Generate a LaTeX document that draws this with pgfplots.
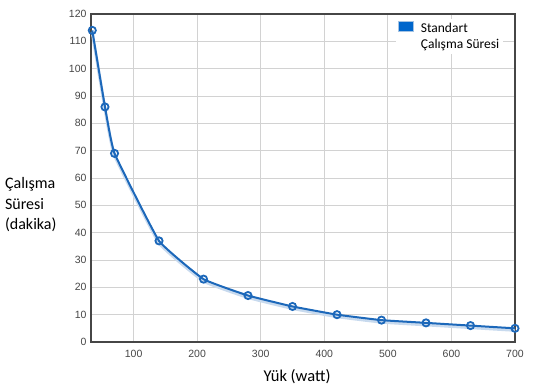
\documentclass[border=0pt]{standalone}
\usepackage{pgfplots}
\pgfplotsset{compat=1.18}
\usepackage{fontspec}
\setmainfont{Carlito}
\newfontfamily\arialf{Liberation Sans}
\definecolor{lineblue}{RGB}{28,104,186}
\definecolor{legblue}{RGB}{0,102,204}
\definecolor{framec}{RGB}{70,70,70}
\definecolor{gridc}{RGB}{210,210,210}
\definecolor{tickc}{RGB}{70,70,70}
\definecolor{shadowc}{RGB}{200,218,238}
\begin{document}
\begin{tikzpicture}
\begin{axis}[
  scale only axis,
  width=424pt, height=328pt,
  xmin=33, xmax=700, ymin=0, ymax=120,
  xtick={100,200,...,700},
  ytick={0,10,...,120},
  grid=major,
  major grid style={gridc, line width=0.8pt},
  axis line style={framec, line width=2.8pt},
  tick style={draw=none},
  ticklabel style={font=\arialf\fontsize{10.5}{12}\selectfont, text=tickc},
  /pgf/number format/assume math mode=true,
  xticklabel style={yshift=-5pt},
  yticklabel style={xshift=-1pt},
  xlabel={Yük (watt)},
  xlabel style={font=\fontsize{16.5}{19}\selectfont, at={(rel axis cs:0.486,0)}, anchor=north, yshift=-24pt},
  legend style={at={(rel axis cs:0.72,0.985)}, anchor=north west, draw=none, fill=white,
    font=\fontsize{13.5}{16.5}\selectfont, cells={align=left}, inner sep=2pt},
  legend cell align=left,
  legend image code/.code={\draw[draw=lineblue!40, fill=legblue, line width=0.8pt] (0pt,5pt) rectangle (15pt,15pt); \path (19pt,10pt);},
]
\addplot[shadowc, line width=3pt, smooth, tension=0.2, yshift=-2pt, forget plot] coordinates {
(35,114) (55,86) (70,69) (140,37) (210,23) (280,17) (350,13) (420,10) (490,8) (560,7) (630,6) (700,5)};
\addplot[lineblue, line width=2pt, smooth, tension=0.2, mark=o, mark size=3.6pt,
  mark options={fill=white, line width=1.8pt, solid}] coordinates {
(35,114) (55,86) (70,69) (140,37) (210,23) (280,17) (350,13) (420,10) (490,8) (560,7) (630,6) (700,5)};
\addlegendentry{Standart\\Çalışma Süresi}
\end{axis}
\node[font=\fontsize{16}{20.5}\selectfont, align=left, anchor=east] at ([xshift=-31pt,yshift=137pt]current axis.south west) {Çalışma\\Süresi\\(dakika)};
\path (current axis.south west) ++(-91pt,-46pt) (current axis.north east) ++(30pt,14pt);
\end{tikzpicture}
\end{document}
